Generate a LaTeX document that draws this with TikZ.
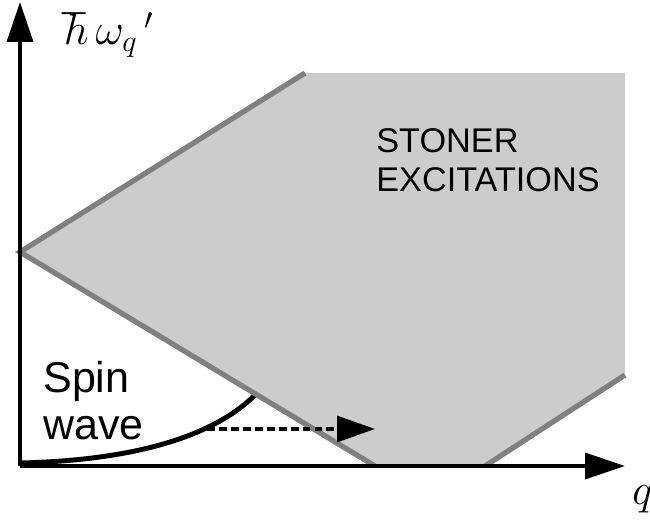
\documentclass[tikz,border=0pt]{standalone}
\usepackage{fontspec}
\setmainfont{Liberation Sans}
\usepackage{amsmath}
\usetikzlibrary{arrows.meta,positioning}
\definecolor{stonerfill}{HTML}{CCCCCC}
\definecolor{stoneredge}{HTML}{808080}

\begin{document}
\begin{tikzpicture}[x=0.02cm,y=-0.02cm,
  axis/.style={line width=2.3pt,-{Triangle[length=22.7pt,width=14.7pt]}},
  edge/.style={stoneredge,line width=3pt},
  lbl/.style={inner sep=0pt,anchor=base west}]
\useasboundingbox (0,0) rectangle (650,523);
% corners of the continuum
\coordinate (O) at (20,466);
\coordinate (K) at (20,252);
\coordinate (A) at (305,73);
\coordinate (B) at (625,73);
\coordinate (C) at (625,375);
\coordinate (D) at (485,466);
\coordinate (E) at (375,466);
\fill[stonerfill] (K) -- (A) -- (B) -- (C) -- (D) -- (E) -- cycle;
% spin wave branch
\draw[line width=2.8pt] (20,463) .. controls (150,460) and (220,430) .. (255,395);
\draw[edge] (A) -- (K) -- (E);
\draw[edge] (D) -- (C);
\coordinate (s) at (207,429);
\coordinate (t) at (375,429);
\draw[line width=2pt,dash pattern=on 4.5pt off 2.3pt,
  -{Triangle[length=21.5pt,width=14.7pt]}] (s) -- (t);
\draw[axis] (O) -- (20,2);
\draw[axis] (O) -- (625,466);
\node[lbl,font=\fontsize{24}{26}\selectfont] (omega) at (62,45) {$\hbar\,\omega_{q}\,{}'$};
\node[lbl,font=\fontsize{24}{26}\selectfont] (qlab) at (632,505) {$q$};
\node[lbl,align=left,font=\fontsize{24.5}{27.2}\selectfont] (spin) at (43,440) {Spin\\wave};
\node[lbl,align=left,font=\fontsize{19.5}{22.7}\selectfont] (stoner) at (376,192) {STONER\\EXCITATIONS};
\end{tikzpicture}
\end{document}
